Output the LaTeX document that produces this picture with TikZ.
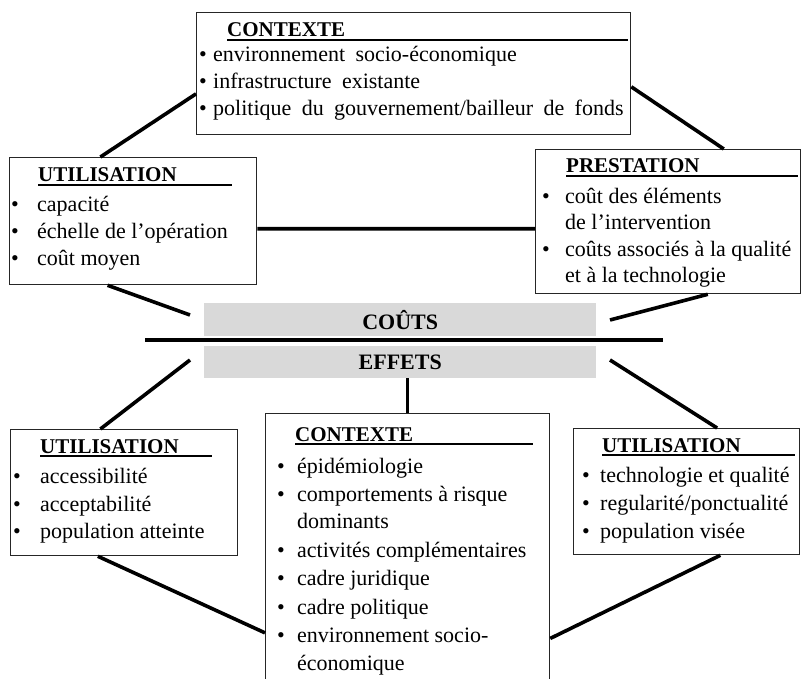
\documentclass[tikz,border=0pt]{standalone}
\usepackage{fontspec}
\setmainfont{Liberation Serif}
\usetikzlibrary{calc}
\newcommand\mywsp{\spaceskip=0.47em\relax}
\begin{document}
\begin{tikzpicture}[x=1pt,y=-1pt,
  box/.style={draw=black!85, line width=1.3pt, fill=white, inner sep=0pt, anchor=north west},
  conn/.style={line width=3.6pt, black},
  txt/.style={anchor=base west, inner sep=0pt, font=\fontsize{22}{26}\selectfont},
  wide/.style={font=\fontsize{22}{26}\selectfont\mywsp},
  hd/.style={anchor=base west, inner sep=0pt, font=\fontsize{21}{25}\selectfont\bfseries},
  bul/.style={anchor=base, inner sep=0pt, font=\fontsize{22}{26}\selectfont},
  ul/.style={line width=1.6pt, black},
  bar/.style={fill=black!15, draw=none, inner sep=0pt, anchor=north west, font=\fontsize{22}{26}\selectfont\bfseries}
]
\useasboundingbox (0,0) rectangle (801,679);
\clip (0,0) rectangle (801,679);

% boxes
\node[box, minimum width=434, minimum height=122] (ctop) at (196,12) {};
\node[box, minimum width=247, minimum height=127] (uleft) at (9,157) {};
\node[box, minimum width=265, minimum height=144] (prest) at (535,149) {};
\node[box, minimum width=284, minimum height=277] (ctr) at (265,413) {};
\node[box, minimum width=227, minimum height=126] (ubl) at (10,429) {};
\node[box, minimum width=226, minimum height=126] (ubr) at (573,428) {};

% bars
\node[bar, minimum width=392, minimum height=33] (couts) at (204,303) {COÛTS};
\node[bar, minimum width=392, minimum height=32] (effets) at (204,346) {EFFETS};
\coordinate (sepL) at (145,340);
\coordinate (sepR) at (663,340);
\draw[conn] (sepL) -- (sepR);

% free ends
\coordinate (fUL) at (190,315);
\coordinate (fUR) at (610,320);
\coordinate (fLL) at (190,360);
\coordinate (fLR) at (610,360);

% connectors
\draw[conn] ($(uleft.north west)!0.368!(uleft.north east)$) -- ($(ctop.north west)!0.664!(ctop.south west)$);
\draw[conn] ($(ctop.north east)!0.607!(ctop.south east)$) -- ($(prest.north west)!0.709!(prest.north east)$);
\draw[conn] ($(uleft.north east)!0.559!(uleft.south east)$) -- ($(prest.north west)!0.549!(prest.south west)$);
\draw[conn] ($(uleft.south west)!0.397!(uleft.south east)$) -- (fUL);
\draw[conn] ($(prest.south west)!0.649!(prest.south east)$) -- (fUR);
\draw[conn] (fLL) -- ($(ubl.north west)!0.396!(ubl.north east)$);
\draw[conn] (fLR) -- ($(ubr.north west)!0.634!(ubr.north east)$);
\draw[conn] ($(ubl.south west)!0.385!(ubl.south east)$) -- ($(ctr.north west)!0.79!(ctr.south west)$);
\draw[conn] ($(ubr.south west)!0.648!(ubr.south east)$) -- ($(ctr.north east)!0.81!(ctr.south east)$);
\draw[conn] (effets.south -| ctr.north) -- (ctr.north);

% top CONTEXTE
\node[hd] (h1) at (227,37) {CONTEXTE};
\draw[ul] ($(h1.base west)+(0,3)$) -- ($(h1.base west)+(401,3)$);
\node[bul] (b11) at (203,62) {•};
\node[txt, wide] (t11) at (213,62) {environnement socio-économique};
\node[bul] (b12) at (203,89) {•};
\node[txt, wide] (t12) at (213,89) {infrastructure existante};
\node[bul] (b13) at (203,116) {•};
\node[txt, wide] (t13) at (213,116) {politique du gouvernement/bailleur de fonds};

% left UTILISATION
\node[hd] (h2) at (38,182) {UTILISATION};
\draw[ul] ($(h2.base west)+(0,3)$) -- ($(h2.base west)+(194,3)$);
\node[bul] (b21) at (15,212) {•};
\node[txt] (t21) at (37,212) {capacité};
\node[bul] (b22) at (15,239) {•};
\node[txt] (t22) at (37,239) {échelle de l’opération};
\node[bul] (b23) at (15,266) {•};
\node[txt] (t23) at (37,266) {coût moyen};

% PRESTATION
\node[hd] (h3) at (566,173) {PRESTATION};
\draw[ul] ($(h3.base west)+(0,3)$) -- ($(h3.base west)+(232,3)$);
\node[bul] (b31) at (546,204) {•};
\node[txt] (t31) at (565,204) {coût des éléments};
\node[txt] (t32) at (565,230) {de l’intervention};
\node[bul] (b33) at (546,257) {•};
\node[txt] (t33) at (565,257) {coûts associés à la qualité};
\node[txt] (t34) at (565,283) {et à la technologie};

% center CONTEXTE
\node[hd] (h4) at (295,441) {CONTEXTE};
\draw[ul] ($(h4.base west)+(0,3)$) -- ($(h4.base west)+(238,3)$);
\node[bul] (b41) at (281,473) {•};
\node[txt] (t41) at (297,473) {épidémiologie};
\node[bul] (b42) at (281,501) {•};
\node[txt] (t42) at (297,501) {comportements à risque};
\node[txt] (t43) at (297,528) {dominants};
\node[bul] (b44) at (281,557) {•};
\node[txt] (t44) at (297,557) {activités complémentaires};
\node[bul] (b45) at (281,585) {•};
\node[txt] (t45) at (297,585) {cadre juridique};
\node[bul] (b46) at (281,614) {•};
\node[txt] (t46) at (297,614) {cadre politique};
\node[bul] (b47) at (281,642) {•};
\node[txt] (t47) at (297,642) {environnement socio-};
\node[txt] (t48) at (297,670) {économique};

% bottom-left UTILISATION
\node[hd] (h5) at (40,453) {UTILISATION};
\draw[ul] ($(h5.base west)+(0,3)$) -- ($(h5.base west)+(172,3)$);
\node[bul] (b51) at (17,483) {•};
\node[txt] (t51) at (40,483) {accessibilité};
\node[bul] (b52) at (17,511) {•};
\node[txt] (t52) at (40,511) {acceptabilité};
\node[bul] (b53) at (17,538) {•};
\node[txt] (t53) at (40,538) {population atteinte};

% bottom-right UTILISATION
\node[hd] (h6) at (602,452) {UTILISATION};
\draw[ul] ($(h6.base west)+(0,3)$) -- ($(h6.base west)+(193,3)$);
\node[bul] (b61) at (586,482) {•};
\node[txt] (t61) at (600,482) {technologie et qualité};
\node[bul] (b62) at (586,510) {•};
\node[txt] (t62) at (600,510) {regularité/ponctualité};
\node[bul] (b63) at (586,538) {•};
\node[txt] (t63) at (600,538) {population visée};
\end{tikzpicture}
\end{document}
